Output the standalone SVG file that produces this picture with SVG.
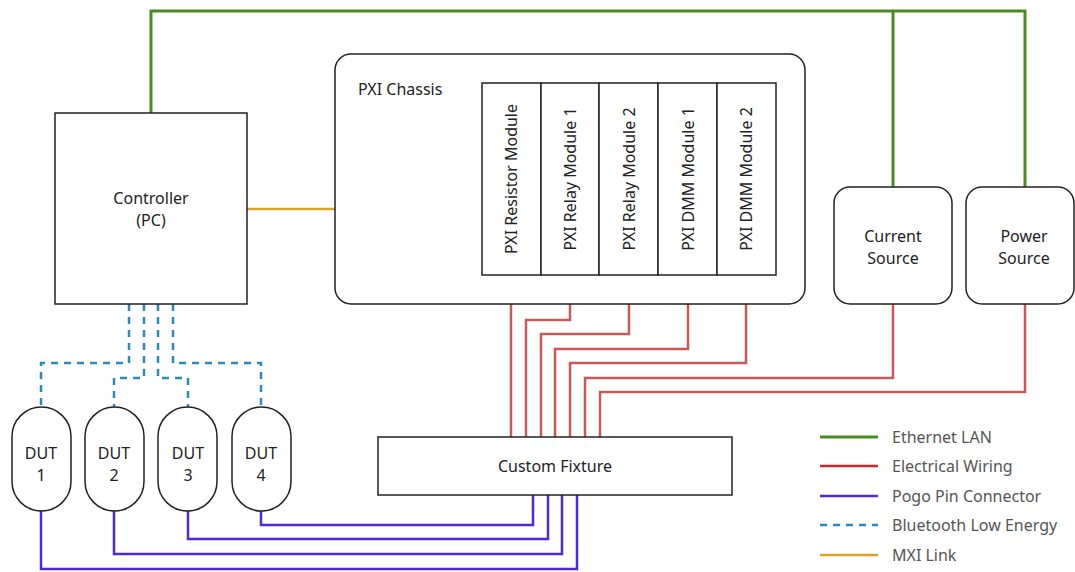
<svg xmlns="http://www.w3.org/2000/svg" width="1075" height="572" viewBox="0 0 1075 572">
<style>
.box{fill:#fff;stroke:#222;stroke-width:1.5}
.t{font-family:"Noto Sans","Open Sans",sans-serif;font-size:16px;fill:#222;text-anchor:middle;dominant-baseline:central}
.lg{font-family:"Noto Sans","Open Sans",sans-serif;font-size:16px;fill:#555;dominant-baseline:central}
.eth{fill:none;stroke:#4a8c1f;stroke-width:3}
.el{fill:none;stroke:#c65a5a;stroke-width:2.5}
.pogo{fill:none;stroke:#4f27de;stroke-width:2.5}
.ble{fill:none;stroke:#2a8bb8;stroke-width:2.5;stroke-dasharray:7 6}
.mxi{fill:none;stroke:#e0a020;stroke-width:2.5}
</style>
<rect width="1075" height="572" fill="#fff"/>
<g id="connectors">
  <path class="eth" d="M151,113 V11 H1025 V187"/>
  <path class="eth" d="M893,11 V187"/>
  <path class="mxi" d="M247,209 H335"/>
  <path class="el" d="M511,275 V437"/>
  <path class="el" d="M570,275 V320 H526 V437"/>
  <path class="el" d="M629,275 V334 H541 V437"/>
  <path class="el" d="M688,275 V349 H555 V437"/>
  <path class="el" d="M746,275 V363 H570 V437"/>
  <path class="el" d="M893,304 V378 H585 V437"/>
  <path class="el" d="M1025,304 V392 H600 V437"/>
  <path class="pogo" d="M261,511 V525 H533 V495"/>
  <path class="pogo" d="M188,511 V539 H548 V495"/>
  <path class="pogo" d="M114,511 V554 H562 V495"/>
  <path class="pogo" d="M41,511 V569 H577 V495"/>
  <path class="ble" d="M129,304 V363 H41 V407"/>
  <path class="ble" d="M144,304 V378 H114 V407"/>
  <path class="ble" d="M158,304 V378 H188 V407"/>
  <path class="ble" d="M173,304 V363 H261 V407"/>
</g>
<g id="controller">
  <rect class="box" x="55" y="113" width="192" height="191"/>
  <text class="t" x="151" y="198">Controller</text>
  <text class="t" x="151" y="220">(PC)</text>
</g>
<g id="pxi-chassis">
  <rect class="box" x="335" y="54" width="470" height="250" rx="16"/>
  <text class="lg" x="358" y="89" style="fill:#222">PXI Chassis</text>
</g>
<g id="module-resistor">
  <rect class="box" x="482" y="83" width="59" height="192"/>
  <text class="t" transform="translate(511,179) rotate(-90)">PXI Resistor Module</text>
</g>
<g id="module-relay1">
  <rect class="box" x="541" y="83" width="58" height="192"/>
  <text class="t" transform="translate(570,179) rotate(-90)">PXI Relay Module 1</text>
</g>
<g id="module-relay2">
  <rect class="box" x="599" y="83" width="59" height="192"/>
  <text class="t" transform="translate(629,179) rotate(-90)">PXI Relay Module 2</text>
</g>
<g id="module-dmm1">
  <rect class="box" x="658" y="83" width="59" height="192"/>
  <text class="t" transform="translate(688,179) rotate(-90)">PXI DMM Module 1</text>
</g>
<g id="module-dmm2">
  <rect class="box" x="717" y="83" width="59" height="192"/>
  <text class="t" transform="translate(746,179) rotate(-90)">PXI DMM Module 2</text>
</g>
<g id="current-source">
  <rect class="box" x="834" y="187" width="118" height="117" rx="16"/>
  <text class="t" x="893" y="236">Current</text>
  <text class="t" x="893" y="258">Source</text>
</g>
<g id="power-source">
  <rect class="box" x="966" y="187" width="108" height="117" rx="16"/>
  <text class="t" x="1024" y="236">Power</text>
  <text class="t" x="1024" y="258">Source</text>
</g>
<g id="custom-fixture">
  <rect class="box" x="378" y="437" width="354" height="58"/>
  <text class="t" x="555" y="466">Custom Fixture</text>
</g>
<g id="dut1">
  <rect class="box" x="12" y="407" width="59" height="104" rx="29.5"/>
  <text class="t" x="41" y="453">DUT</text>
  <text class="t" x="41" y="475">1</text>
</g>
<g id="dut2">
  <rect class="box" x="85" y="407" width="59" height="104" rx="29.5"/>
  <text class="t" x="114" y="453">DUT</text>
  <text class="t" x="114" y="475">2</text>
</g>
<g id="dut3">
  <rect class="box" x="158" y="407" width="59" height="104" rx="29.5"/>
  <text class="t" x="188" y="453">DUT</text>
  <text class="t" x="188" y="475">3</text>
</g>
<g id="dut4">
  <rect class="box" x="232" y="407" width="59" height="104" rx="29.5"/>
  <text class="t" x="261" y="453">DUT</text>
  <text class="t" x="261" y="475">4</text>
</g>
<g id="legend">
  <line class="eth" x1="820" y1="437" x2="878" y2="437"/>
  <text class="lg" x="892" y="437">Ethernet LAN</text>
  <line class="el" x1="820" y1="466" x2="878" y2="466" style="stroke:#cc2a2a"/>
  <text class="lg" x="892" y="466">Electrical Wiring</text>
  <line class="pogo" x1="820" y1="496" x2="878" y2="496"/>
  <text class="lg" x="892" y="496">Pogo Pin Connector</text>
  <line class="ble" x1="820" y1="525" x2="878" y2="525"/>
  <text class="lg" x="892" y="525">Bluetooth Low Energy</text>
  <line class="mxi" x1="820" y1="555" x2="878" y2="555"/>
  <text class="lg" x="892" y="555">MXI Link</text>
</g>
</svg>
